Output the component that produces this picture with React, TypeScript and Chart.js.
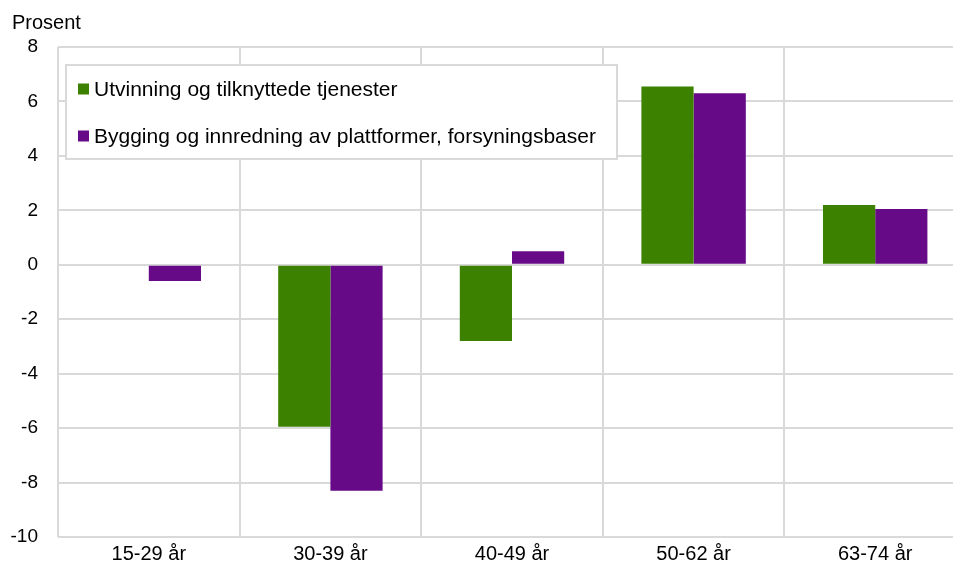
import React, { useEffect, useRef } from "react";
import { Chart, registerables } from "chart.js";

Chart.register(...registerables);

const categories = ["15-29 år", "30-39 år", "40-49 år", "50-62 år", "63-74 år"];
const seriesNames = [
  "Utvinning og tilknyttede tjenester",
  "Bygging og innredning av plattformer, forsyningsbaser",
];
const utvinning = [0, -5.95, -2.8, 6.55, 2.2];
const bygging = [-0.6, -8.3, 0.5, 6.3, 2.05];
const seriesColors = ["#3C8200", "#670A87"];
const yMin = -10;
const yMax = 8;
const yStep = 2;
const yUnit = "Prosent";

const FONT = "Arial, 'Liberation Sans', sans-serif";
const GRID = "#D9D9D9";

const overlayPlugin = {
  id: "overlay",
  afterDraw(chart: any) {
    const ctx = chart.ctx;
    ctx.save();
    ctx.fillStyle = "#000";
    ctx.font = `20px ${FONT}`;
    ctx.textAlign = "left";
    ctx.textBaseline = "alphabetic";
    ctx.fillText(yUnit, 12, 29);
    const bx = 66, by = 65, bw = 551, bh = 94;
    ctx.fillStyle = "#fff";
    ctx.fillRect(bx, by, bw, bh);
    ctx.strokeStyle = GRID;
    ctx.lineWidth = 2;
    ctx.strokeRect(bx, by, bw, bh);
    ctx.font = `21px ${FONT}`;
    ctx.textBaseline = "middle";
    const rows = [89, 136];
    seriesNames.forEach((name, i) => {
      ctx.fillStyle = seriesColors[i];
      ctx.fillRect(78, rows[i] - 5.5, 11, 11);
      ctx.fillStyle = "#000";
      ctx.fillText(name, 94, rows[i] + 1);
    });
    ctx.restore();
  },
};

export default function App() {
  const ref = useRef<HTMLCanvasElement>(null);
  useEffect(() => {
    const chart = new Chart(ref.current as HTMLCanvasElement, {
      type: "bar",
      data: {
        labels: categories,
        datasets: [
          { label: seriesNames[0], data: utvinning, backgroundColor: seriesColors[0] },
          { label: seriesNames[1], data: bygging, backgroundColor: seriesColors[1] },
        ],
      },
      options: {
        animation: false,
        responsive: false,
        layout: { padding: { top: 47, left: 0, right: 0, bottom: 0 } },
        plugins: { legend: { display: false }, tooltip: { enabled: false } },
        datasets: { bar: { barPercentage: 1, categoryPercentage: 0.575 } },
        scales: {
          x: {
            grid: { color: GRID, lineWidth: 2, drawTicks: false, offset: true },
            border: { display: false },
            ticks: { color: "#000", font: { size: 20, family: FONT }, padding: 5, maxRotation: 0 },
            afterFit: (s: any) => { s.height = 25; },
          },
          y: {
            min: yMin,
            max: yMax,
            grid: { color: GRID, lineWidth: 2, drawTicks: false },
            border: { display: false },
            ticks: { stepSize: yStep, color: "#000", font: { size: 19, family: FONT }, padding: 20 },
            afterFit: (s: any) => { s.width = 58; s.paddingTop = 0; s.paddingBottom = 0; },
          },
        },
      },
      plugins: [overlayPlugin],
    });
    return () => chart.destroy();
  }, []);
  return (
    <div style={{ position: "fixed", left: 0, top: 0, width: 953, height: 562, overflow: "hidden", background: "#fff" }}>
      <canvas ref={ref} width={966} height={562} style={{ display: "block" }} />
    </div>
  );
}
